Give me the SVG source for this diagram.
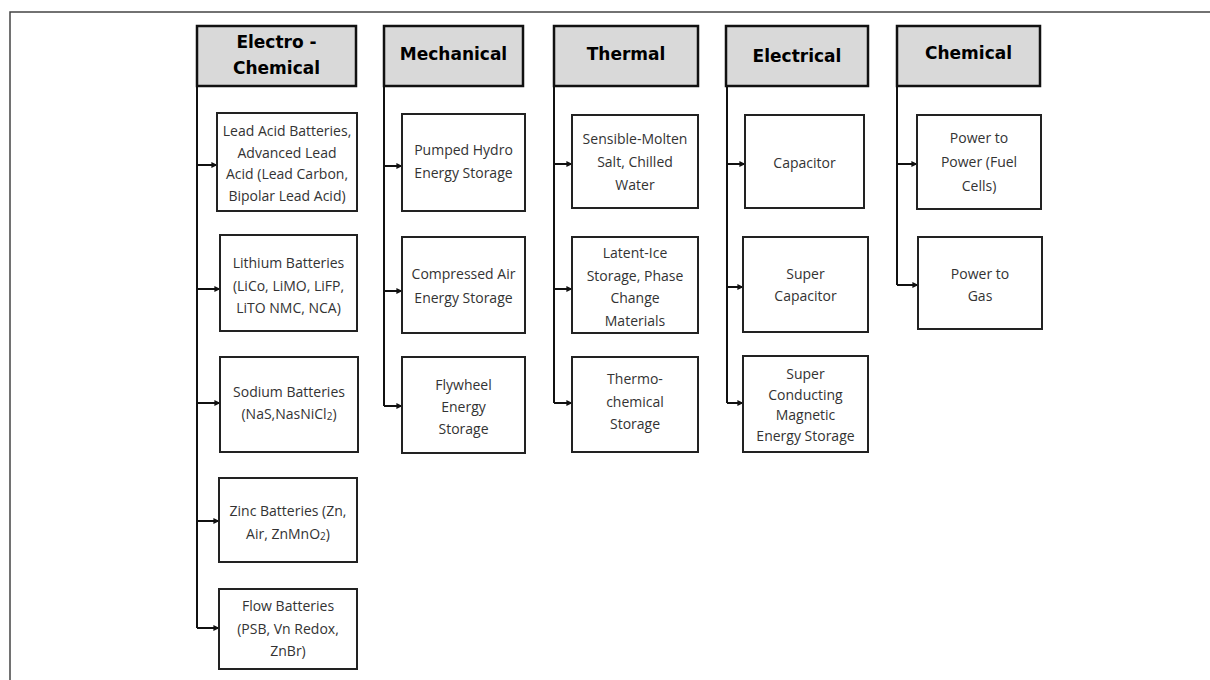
<svg xmlns="http://www.w3.org/2000/svg" width="1210" height="680" viewBox="0 0 1210 680">
<defs>
<marker id="ah" viewBox="0 0 8 8" refX="7.5" refY="4" markerWidth="6" markerHeight="6" markerUnits="userSpaceOnUse" orient="auto">
<path d="M0,0 L8,4 L0,8 Z" fill="#111"/>
</marker>
<style>
.frame{fill:none;stroke:#444;stroke-width:1.5}
.hdr{fill:#d9d9d9;stroke:#111;stroke-width:2.5}
.box{fill:#fff;stroke:#222;stroke-width:2}
.ht{font-family:"DejaVu Sans","Liberation Sans",sans-serif;font-weight:bold;font-size:17px;fill:#000;text-anchor:middle;dominant-baseline:central}
.bt{font-family:"Open Sans","Liberation Sans",sans-serif;font-size:14px;fill:#333;text-anchor:middle;dominant-baseline:central}
.trunk{fill:none;stroke:#111;stroke-width:2}
.arr{fill:none;stroke:#111;stroke-width:2;marker-end:url(#ah)}
.sub{font-size:10px}
</style>
</defs>
<rect class="frame" x="10" y="12" width="1215" height="690"/>

<g id="connectors">
<path class="trunk" d="M197,86 V628"/>
<path class="arr" d="M197,165 H217"/>
<path class="arr" d="M197,289 H220"/>
<path class="arr" d="M197,403 H220"/>
<path class="arr" d="M197,521 H219"/>
<path class="arr" d="M197,628 H219"/>
<path class="trunk" d="M384,86 V406"/>
<path class="arr" d="M384,166 H402"/>
<path class="arr" d="M384,291 H402"/>
<path class="arr" d="M384,406 H402"/>
<path class="trunk" d="M554,86 V403"/>
<path class="arr" d="M554,164 H572"/>
<path class="arr" d="M554,289 H572"/>
<path class="arr" d="M554,403 H572"/>
<path class="trunk" d="M727,86 V403"/>
<path class="arr" d="M727,164 H745"/>
<path class="arr" d="M727,287 H743"/>
<path class="arr" d="M727,403 H743"/>
<path class="trunk" d="M897,86 V285"/>
<path class="arr" d="M897,164 H917"/>
<path class="arr" d="M897,285 H918"/>
</g>

<g id="h-electrochemical"><rect class="hdr" x="197" y="26" width="159" height="60"/><text class="ht" x="276.5" y="42">Electro -</text><text class="ht" x="276.5" y="68">Chemical</text></g>
<g id="h-mechanical"><rect class="hdr" x="384" y="26" width="139" height="60"/><text class="ht" x="453.5" y="54">Mechanical</text></g>
<g id="h-thermal"><rect class="hdr" x="554" y="26" width="144" height="60"/><text class="ht" x="626" y="54">Thermal</text></g>
<g id="h-electrical"><rect class="hdr" x="726" y="26" width="142" height="60"/><text class="ht" x="797" y="56">Electrical</text></g>
<g id="h-chemical"><rect class="hdr" x="897" y="26" width="143" height="60"/><text class="ht" x="968.5" y="53">Chemical</text></g>

<g id="e1"><rect class="box" x="217" y="113" width="140" height="98"/><text class="bt" x="287" y="130">Lead Acid Batteries,<tspan x="287" dy="21.5">Advanced Lead</tspan><tspan x="287" dy="21.5">Acid (Lead Carbon,</tspan><tspan x="287" dy="21.5">Bipolar Lead Acid)</tspan></text></g>
<g id="e2"><rect class="box" x="220" y="235" width="137" height="96"/><text class="bt" x="288.5" y="262">Lithium Batteries<tspan x="288.5" dy="22.5">(LiCo, LiMO, LiFP,</tspan><tspan x="288.5" dy="22.5">LiTO NMC, NCA)</tspan></text></g>
<g id="e3"><rect class="box" x="220" y="357" width="138" height="95"/><text class="bt" x="289" y="391">Sodium Batteries<tspan x="289" dy="22">(NaS,NasNiCl</tspan><tspan class="sub" dy="3">2</tspan><tspan dy="-3">)</tspan></text></g>
<g id="e4"><rect class="box" x="219" y="478" width="138" height="84"/><text class="bt" x="288" y="510">Zinc Batteries (Zn,<tspan x="288" dy="23">Air, ZnMnO</tspan><tspan class="sub" dy="3">2</tspan><tspan dy="-3">)</tspan></text></g>
<g id="e5"><rect class="box" x="219" y="589" width="138" height="80"/><text class="bt" x="288" y="605">Flow Batteries<tspan x="288" dy="22.5">(PSB, Vn Redox,</tspan><tspan x="288" dy="22.5">ZnBr)</tspan></text></g>

<g id="m1"><rect class="box" x="402" y="114" width="123" height="97"/><text class="bt" x="463.5" y="149">Pumped Hydro<tspan x="463.5" dy="23">Energy Storage</tspan></text></g>
<g id="m2"><rect class="box" x="402" y="237" width="123" height="96"/><text class="bt" x="463.5" y="273">Compressed Air<tspan x="463.5" dy="24">Energy Storage</tspan></text></g>
<g id="m3"><rect class="box" x="402" y="357" width="123" height="96"/><text class="bt" x="463.5" y="384">Flywheel<tspan x="463.5" dy="22">Energy</tspan><tspan x="463.5" dy="22">Storage</tspan></text></g>

<g id="t1"><rect class="box" x="572" y="115" width="126" height="93"/><text class="bt" x="635" y="138">Sensible-Molten<tspan x="635" dy="23">Salt, Chilled</tspan><tspan x="635" dy="23">Water</tspan></text></g>
<g id="t2"><rect class="box" x="572" y="237" width="126" height="96"/><text class="bt" x="635" y="252">Latent-Ice<tspan x="635" dy="22.5">Storage, Phase</tspan><tspan x="635" dy="22.5">Change</tspan><tspan x="635" dy="22.5">Materials</tspan></text></g>
<g id="t3"><rect class="box" x="572" y="357" width="126" height="95"/><text class="bt" x="635" y="378">Thermo-<tspan x="635" dy="22.5">chemical</tspan><tspan x="635" dy="22.5">Storage</tspan></text></g>

<g id="l1"><rect class="box" x="745" y="115" width="119" height="93"/><text class="bt" x="804.5" y="162">Capacitor</text></g>
<g id="l2"><rect class="box" x="743" y="237" width="125" height="95"/><text class="bt" x="805.5" y="273">Super<tspan x="805.5" dy="21.5">Capacitor</tspan></text></g>
<g id="l3"><rect class="box" x="743" y="356" width="125" height="96"/><text class="bt" x="805.5" y="373">Super<tspan x="805.5" dy="20.7">Conducting</tspan><tspan x="805.5" dy="20.7">Magnetic</tspan><tspan x="805.5" dy="20.7">Energy Storage</tspan></text></g>

<g id="c1"><rect class="box" x="917" y="115" width="124" height="94"/><text class="bt" x="979" y="137">Power to<tspan x="979" dy="24">Power (Fuel</tspan><tspan x="979" dy="24">Cells)</tspan></text></g>
<g id="c2"><rect class="box" x="918" y="237" width="124" height="92"/><text class="bt" x="980" y="273">Power to<tspan x="980" dy="22">Gas</tspan></text></g>
</svg>
